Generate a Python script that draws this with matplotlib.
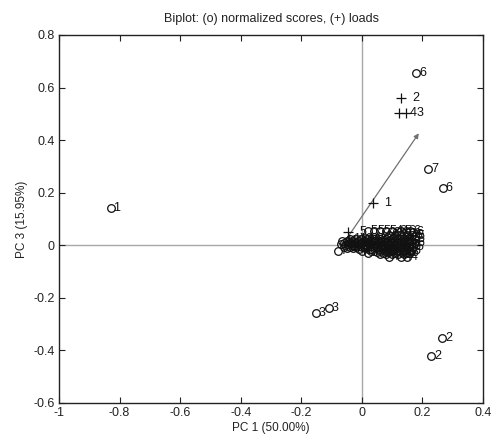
import matplotlib
matplotlib.use("Agg")
import matplotlib.pyplot as plt

plt.rcParams['font.family'] = ['Liberation Sans', 'DejaVu Sans']

# ---- data: normalized scores (o) ----
score_x = [-0.83, 0.18, 0.218, 0.267, -0.152, -0.109, 0.264, 0.228, -0.08,
           # dense cluster near the origin
           0.02, 0.04, 0.06, 0.08, 0.10, 0.115, 0.13, 0.145, 0.16, 0.17,
           0.09, 0.11, 0.13, 0.15, 0.165, 0.175,
           -0.04, -0.02, 0.0, 0.02, 0.04, 0.06, 0.08, 0.10, 0.12, 0.14, 0.16, 0.175,
           -0.06, -0.04, -0.02, 0.0, 0.02, 0.04, 0.06, 0.08, 0.10, 0.12, 0.14, 0.16, 0.175,
           -0.06, -0.04, -0.02, 0.0, 0.02, 0.04, 0.06, 0.08, 0.10, 0.12, 0.14, 0.16, 0.17,
           0.0, 0.03, 0.06, 0.08, 0.10, 0.12, 0.14, 0.16,
           0.06, 0.08, 0.10, 0.12, 0.14, 0.155,
           0.09, 0.13, 0.15,
           -0.07, -0.055, -0.045, -0.03, -0.01, 0.01, 0.03, 0.05, 0.07, 0.09, 0.11, 0.13,
           -0.065, -0.05, -0.03, -0.01, 0.01, 0.03, 0.05, 0.07, 0.09, 0.11, 0.13, 0.15,
           -0.05, -0.03, -0.01, 0.01, 0.03, 0.05, 0.07, 0.09, 0.11, 0.13, 0.15,
           0.02, 0.05, 0.07, 0.09, 0.11, 0.13, 0.145]
score_y = [0.141, 0.654, 0.29, 0.217, -0.259, -0.24, -0.354, -0.422, -0.023,
           0.055, 0.055, 0.055, 0.055, 0.055, 0.055, 0.055, 0.055, 0.055, 0.05,
           0.04, 0.04, 0.04, 0.04, 0.04, 0.035,
           0.025, 0.025, 0.025, 0.025, 0.025, 0.025, 0.025, 0.025, 0.025, 0.025, 0.025, 0.022,
           0.01, 0.01, 0.01, 0.01, 0.01, 0.01, 0.01, 0.01, 0.01, 0.01, 0.01, 0.01, 0.01,
           -0.005, -0.005, -0.005, -0.005, -0.005, -0.005, -0.005, -0.005, -0.005, -0.005, -0.005, -0.005, -0.005,
           -0.02, -0.02, -0.02, -0.02, -0.02, -0.02, -0.02, -0.02,
           -0.035, -0.035, -0.035, -0.035, -0.035, -0.03,
           -0.045, -0.045, -0.045,
           0.003, 0.0, 0.005, 0.002, 0.003, 0.002, 0.004, 0.003, 0.002, 0.003, 0.002, 0.003,
           0.017, 0.018, 0.017, 0.018, 0.017, 0.018, 0.017, 0.018, 0.017, 0.018, 0.017, 0.018,
           -0.012, -0.012, -0.013, -0.012, -0.013, -0.012, -0.013, -0.012, -0.013, -0.012, -0.013,
           -0.028, -0.027, -0.028, -0.027, -0.028, -0.027, -0.028]
score_lab = ['1', '6', '7', '6', '3', '3', '2', '2', '7',
             '5', '5', '5', '5', '4', '6', '5', '6', '6', '6',
             '4', '4', '5', '4', '6', '5',
             '1', '1', '2', '3', '3', '4', '4', '4', '5', '4', '5', '5',
             '1', '1', '2', '2', '3', '3', '4', '4', '4', '5', '5', '5', '5',
             '1', '2', '2', '3', '3', '3', '4', '4', '5', '5', '4', '5', '5',
             '1', '2', '3', '3', '4', '4', '5', '5',
             '3', '4', '4', '4', '4', '5',
             '4', '4', '4',
             '1', '1', '1', '2', '2', '3', '3', '3', '4', '4', '4', '5',
             '1', '1', '2', '2', '3', '3', '4', '4', '4', '5', '5', '5',
             '1', '2', '2', '3', '3', '4', '4', '4', '5', '5', '5',
             '3', '3', '4', '4', '4', '4', '5']

# ---- data: loads (+) ----
load_x = [0.036, 0.13, 0.145, 0.122, -0.046]
load_y = [0.16, 0.56, 0.505, 0.505, 0.05]
load_lab = ['1', '2', '3', '4', '5']

# arrow (start, end)
arrow_x = [-0.065, 0.188]
arrow_y = [0.0, 0.426]

xticks = [-1, -0.8, -0.6, -0.4, -0.2, 0, 0.2, 0.4]
yticks = [-0.6, -0.4, -0.2, 0, 0.2, 0.4, 0.6, 0.8]

fig = plt.figure(figsize=(4.91, 4.45), dpi=100)
ax = fig.add_axes([0.1202, 0.0944, 0.8635, 0.8270])

ax.set_xlim(-1, 0.4)
ax.set_ylim(-0.6, 0.8)

ax.axhline(0, color='#a8a8a8', lw=1.0, zorder=1)
ax.axvline(0, color='#a8a8a8', lw=1.0, zorder=1)

ax.plot(score_x, score_y, linestyle='none', marker='o', markersize=5.5,
        markerfacecolor='none', markeredgecolor='#111111', markeredgewidth=0.9, zorder=3)
for x, y, t in zip(score_x, score_y, score_lab):
    ax.annotate(t, (x, y), xytext=(2.2, 0), textcoords='offset points',
                ha='left', va='center', fontsize=9, color='#111111', zorder=4)

ax.plot(load_x, load_y, linestyle='none', marker='+', markersize=7,
        markeredgecolor='#111111', markeredgewidth=0.9, zorder=3)
for x, y, t in zip(load_x, load_y, load_lab):
    ax.annotate(t, (x, y), xytext=(8, 0), textcoords='offset points',
                ha='left', va='center', fontsize=9, color='#111111', zorder=4)

ax.annotate('', xy=(arrow_x[1], arrow_y[1]), xytext=(arrow_x[0], arrow_y[0]),
            arrowprops=dict(arrowstyle='-|>', color='#707070', lw=0.9,
                            mutation_scale=7, shrinkA=0, shrinkB=0), zorder=2)

ax.set_xticks(xticks)
ax.set_yticks(yticks)
ax.set_xticklabels(['-1', '-0.8', '-0.6', '-0.4', '-0.2', '0', '0.2', '0.4'])
ax.set_yticklabels(['-0.6', '-0.4', '-0.2', '0', '0.2', '0.4', '0.6', '0.8'])
ax.tick_params(direction='in', top=True, right=True, length=4, width=0.8,
               labelsize=9, colors='#222222', pad=3)
for s in ax.spines.values():
    s.set_linewidth(1.0)
    s.set_color('#222222')

ax.set_title('Biplot: (o) normalized scores, (+) loads', fontsize=9, pad=9, color='#222222')
ax.set_xlabel('PC 1 (50.00%)', fontsize=8.5, labelpad=2, color='#222222')
ax.set_ylabel('PC 3 (15.95%)', fontsize=8.5, labelpad=4, color='#222222')

fig.savefig('out.png', dpi=100)
